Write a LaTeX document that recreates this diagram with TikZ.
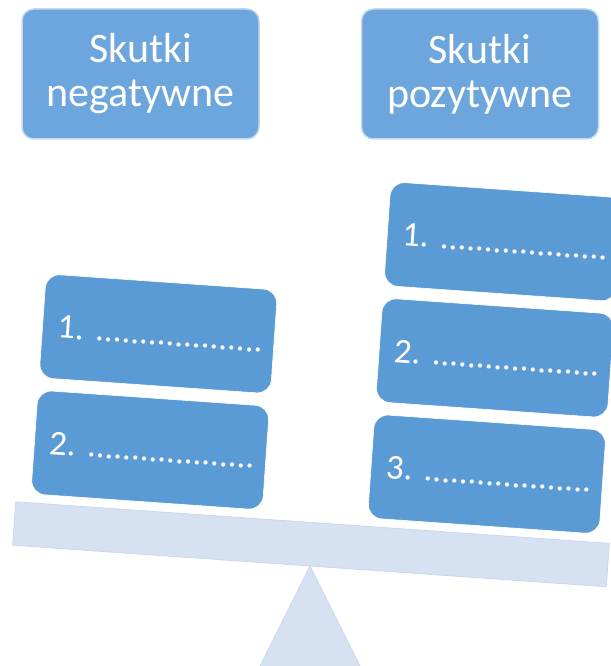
\documentclass[tikz,border=0pt]{standalone}
\usepackage{fontspec}
\setmainfont{Carlito}
\usepackage{tikz}
\usetikzlibrary{positioning}
\usepackage{xcolor}
\definecolor{headblue}{HTML}{6CA6DC}
\definecolor{headrim}{HTML}{C3D8EF}
\definecolor{boxblue}{HTML}{5B9BD5}
\definecolor{beamblue}{HTML}{D6E2F2}
\definecolor{beamrim}{HTML}{CAD8EE}

\begin{document}
\begin{tikzpicture}[x=1pt,y=1pt,node distance=116.5pt,on grid]
    \tikzstyle{header}=[shape=rectangle,rounded corners=12pt,fill=headblue,draw=headrim,line width=1.5pt,minimum width=237pt,minimum height=130pt,text=white,align=center,font=\fontsize{42}{44}\selectfont]
    \tikzstyle{effect}=[shape=rectangle,rounded corners=14pt,fill=boxblue,draw=white,line width=0.6pt,minimum height=104pt,text width=202pt,inner xsep=15pt,text=white,align=left,font=\fontsize{35}{40}\selectfont\frenchspacing]
    \tikzstyle{beam}=[fill=beamblue,draw=beamrim,line width=0.8pt]

    \useasboundingbox (0,0) rectangle (610,666);

    \node[header] (neg) at (140.5,592) {Skutki\\negatywne};
    \node[header, right of=neg, node distance=339.5pt] (poz) {Skutki\\pozytywne};

    \coordinate (pivot) at (310,100);
    \path[beam] (pivot) -- ++(-52,-104) -- ++(104,0) -- cycle;

    \begin{scope}[shift={(pivot)},rotate=-4,transform shape]
    \path[beam] (-298,0) rectangle (297,43.5);
    \node[effect] (N2) at (-167.5,104.5) {2.~...................};
    \node[effect, above of=N2] (N1) {1.~...................};
    \node[effect] (P3) at (170,104) {3.~...................};
    \node[effect, above of=P3] (P2) {2.~...................};
    \node[effect, above of=P2] (P1) {1.~...................};
    \end{scope}
\end{tikzpicture}
\end{document}
